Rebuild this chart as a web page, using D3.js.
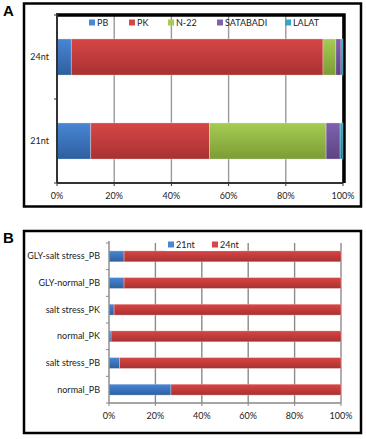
<!DOCTYPE html>
<html>
<head>
<meta charset="utf-8">
<script src="https://cdn.jsdelivr.net/npm/d3@7"></script>
<style>
  html, body { margin: 0; padding: 0; background: #fff; }
  svg { display: block; font-family: Lato, "Open Sans", sans-serif; }
</style>
</head>
<body>
<svg id="chart" width="366" height="439"></svg>
<script>
// ─── Panel A: share of small RNAs by cultivar ────────────────────────────────
const aCats     = ['24nt', '21nt'];
const aSeries   = ['PB', 'PK', 'N-22', 'SATABADI', 'LALAT'];
const aPB       = [5.0, 11.8];
const aPK       = [88.0, 41.5];
const aN22      = [4.5, 40.8];
const aSATABADI = [1.8, 4.9];
const aLALAT    = [0.7, 1.0];

// ─── Panel B: 21nt vs 24nt per condition ─────────────────────────────────────
const bCats   = ['GLY-salt stress_PB', 'GLY-normal_PB', 'salt stress_PK', 'normal_PK', 'salt stress_PB', 'normal_PB'];
const bSeries = ['21nt', '24nt'];
const b21     = [6.5, 6.5, 2.2, 0.9, 4.5, 26.7];
const b24     = [93.5, 93.5, 97.8, 99.1, 95.5, 73.3];

const xTicks = [0, 0.2, 0.4, 0.6, 0.8, 1];

const palette = {
  'PB':       ['#4a86d4', '#2d5f9f'],
  'PK':       ['#d84646', '#a83131'],
  'N-22':     ['#a6cc52', '#7c9c36'],
  'SATABADI': ['#8062ac', '#5c4483'],
  'LALAT':    ['#34a7c6', '#1f7f99'],
  '21nt':     ['#4a86d4', '#2d5f9f'],
  '24nt':     ['#d84646', '#a83131']
};

const svg  = d3.select('#chart');
const defs = svg.append('defs');

Object.entries(palette).forEach(([k, [c1, c2]]) => {
  const g = defs.append('linearGradient')
    .attr('id', 'grad-' + k.replace(/[^a-z0-9]/gi, ''))
    .attr('x1', 0).attr('x2', 0).attr('y1', 0).attr('y2', 1);
  g.append('stop').attr('offset', '0%').attr('stop-color', c1);
  g.append('stop').attr('offset', '100%').attr('stop-color', c2);
});
const gradUrl = k => `url(#grad-${k.replace(/[^a-z0-9]/gi, '')})`;

function buildRows(cats, series, cols) {
  return cats.map((c, i) => {
    const row = { cat: c };
    series.forEach((s, j) => row[s] = cols[j][i]);
    return row;
  });
}

function drawPanel(o) {
  const { frame, plot, cats, series, rows, barFrac, gridColor, legend } = o;

  // outer frame
  svg.append('rect')
    .attr('x', frame.x).attr('y', frame.y)
    .attr('width', frame.w).attr('height', frame.h)
    .attr('fill', '#fff').attr('stroke', '#000').attr('stroke-width', 2.5);

  svg.append('text')
    .attr('x', 3).attr('y', frame.y + 12)
    .attr('font-family', 'Liberation Sans, Arial, sans-serif')
    .attr('font-weight', 'bold').attr('font-size', 15)
    .text(frame.label);

  const x = d3.scaleLinear().domain([0, 1]).range([plot.x0, plot.x1]);
  const y = d3.scaleBand().domain(cats).range([plot.y0, plot.y1]);

  // gridlines
  svg.append('g').selectAll('line')
    .data(xTicks.slice(1)).enter().append('line')
    .attr('x1', d => x(d)).attr('x2', d => x(d))
    .attr('y1', plot.y0).attr('y2', plot.y1)
    .attr('stroke', gridColor).attr('stroke-width', 1.4);

  // plot border (panel A style)
  if (o.boxed) {
    svg.append('path')
      .attr('d', `M${plot.x0 - 1},${plot.y0}H${plot.x1 + 1}V${plot.y1}`)
      .attr('fill', 'none').attr('stroke', '#000').attr('stroke-width', 3.5);
  }

  // bars
  const stack = d3.stack().keys(series).offset(d3.stackOffsetExpand);
  const layers = stack(rows);
  const bh = y.bandwidth() * barFrac;
  svg.append('g').selectAll('g')
    .data(layers).enter().append('g')
    .attr('fill', d => gradUrl(d.key))
    .selectAll('rect')
    .data(d => d).enter().append('rect')
    .attr('x', d => x(d[0]))
    .attr('y', d => y(d.data.cat) + (y.bandwidth() - bh) / 2)
    .attr('width', d => x(d[1]) - x(d[0]))
    .attr('height', bh)
    .attr('stroke', 'rgba(255,255,255,0.35)').attr('stroke-width', 0.8);

  // y axis
  const yAxis = svg.append('g');
  yAxis.append('line')
    .attr('x1', plot.x0).attr('x2', plot.x0)
    .attr('y1', plot.y0 - 2).attr('y2', plot.y1)
    .attr('stroke', o.axisColor).attr('stroke-width', o.axisWidth);
  const bounds = cats.map(c => y(c)).concat([plot.y1]);
  yAxis.selectAll('.tk').data(bounds).enter().append('line')
    .attr('x1', plot.x0 - 3).attr('x2', plot.x0)
    .attr('y1', d => d).attr('y2', d => d)
    .attr('stroke', o.axisColor).attr('stroke-width', 1);
  yAxis.selectAll('text').data(cats).enter().append('text')
    .attr('x', o.labelX).attr('y', d => y(d) + y.bandwidth() / 2 + 3)
    .attr('text-anchor', 'end').attr('font-size', 9).attr('fill', '#222')
    .text(d => d);

  // x axis
  const xAxis = svg.append('g');
  xAxis.append('line')
    .attr('x1', plot.x0).attr('x2', plot.x1)
    .attr('y1', plot.y1).attr('y2', plot.y1)
    .attr('stroke', o.axisColor).attr('stroke-width', o.axisWidth);
  xAxis.selectAll('.tk').data(xTicks).enter().append('line')
    .attr('x1', d => x(d)).attr('x2', d => x(d))
    .attr('y1', plot.y1).attr('y2', plot.y1 + 3)
    .attr('stroke', o.axisColor).attr('stroke-width', 1);
  xAxis.selectAll('text').data(xTicks).enter().append('text')
    .attr('x', d => x(d)).attr('y', plot.y1 + 16)
    .attr('text-anchor', 'middle').attr('font-size', 9).attr('fill', '#222')
    .text(d3.format('.0%'));

  // legend
  const lg = svg.append('g');
  if (legend.bg) {
    lg.append('rect')
      .attr('x', legend.bg[0]).attr('y', legend.y - 7)
      .attr('width', legend.bg[1]).attr('height', 13)
      .attr('fill', '#fff');
  }
  series.forEach((s, i) => {
    const lx = legend.xs[i];
    lg.append('rect')
      .attr('x', lx).attr('y', legend.y - 3.5)
      .attr('width', 6).attr('height', 6)
      .attr('fill', palette[s][0]);
    lg.append('text')
      .attr('x', lx + 8).attr('y', legend.y + 3)
      .attr('font-size', 9).attr('fill', '#222')
      .text(s);
  });
}

drawPanel({
  frame: { x: 24, y: 3.5, w: 337, h: 203, label: 'A' },
  plot: { x0: 57, x1: 343, y0: 15, y1: 183 },
  cats: aCats, series: aSeries,
  rows: buildRows(aCats, aSeries, [aPB, aPK, aN22, aSATABADI, aLALAT]),
  barFrac: 0.43, gridColor: '#9a9a9a', boxed: true,
  axisColor: '#333', axisWidth: 2, labelX: 49,
  legend: { y: 23, xs: [89, 129, 168, 217, 285] }
});

drawPanel({
  frame: { x: 24, y: 231, w: 337, h: 202, label: 'B' },
  plot: { x0: 109, x1: 341, y0: 243, y1: 403 },
  cats: bCats, series: bSeries,
  rows: buildRows(bCats, bSeries, [b21, b24]),
  barFrac: 0.41, gridColor: '#8a8a8a', boxed: false,
  axisColor: '#888', axisWidth: 1.4, labelX: 100,
  legend: { y: 245, xs: [168, 212], bg: [165, 74] }
});
</script>
</body>
</html>
